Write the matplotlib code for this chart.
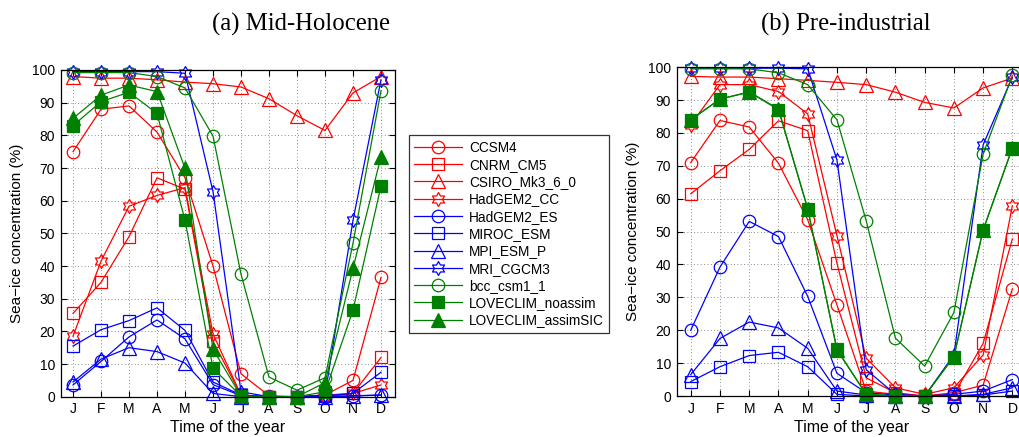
import matplotlib
matplotlib.use("Agg")
import matplotlib.pyplot as plt
from matplotlib.path import Path
import numpy as np

months = ["J", "F", "M", "A", "M", "J", "J", "A", "S", "O", "N", "D"]
models = ["CCSM4", "CNRM_CM5", "CSIRO_Mk3_6_0", "HadGEM2_CC", "HadGEM2_ES",
          "MIROC_ESM", "MPI_ESM_P", "MRI_CGCM3", "bcc_csm1_1",
          "LOVECLIM_noassim", "LOVECLIM_assimSIC"]

# (a) Mid-Holocene
mh_CCSM4 = [75, 88, 89, 81, 67, 40, 7, 0.3, 0, 0.5, 5, 36.5]
mh_CNRM_CM5 = [25.5, 35, 49, 67, 63.5, 17, 0.5, 0, 0, 0.5, 1, 12]
mh_CSIRO = [98, 97.5, 97.5, 97, 96.3, 95.8, 94.8, 91.2, 86, 81.5, 93, 98]
mh_HadGEM2_CC = [18.5, 41.5, 58.3, 61.6, 64, 19.2, 0.5, 0, 0, 0, 1, 3.6]
mh_HadGEM2_ES = [3.6, 10.8, 18.3, 23.5, 17.7, 3.7, 0.3, 0, 0, 0, 0.3, 0.5]
mh_MIROC_ESM = [15.5, 20.5, 23.3, 27.2, 20.3, 4.5, 0.5, 0, 0, 0.3, 1, 7.5]
mh_MPI_ESM_P = [4.5, 11.5, 15, 13.8, 10.3, 1, 0, 0, 0, 0, 0.2, 0.5]
mh_MRI_CGCM3 = [99.5, 99.5, 99.5, 99.5, 99, 62.8, 1.5, 0, 0, 0.5, 54, 97]
mh_bcc = [99.2, 99.2, 99.2, 98, 94.5, 79.8, 37.5, 6, 2, 5.8, 47, 93.7]
mh_LOVE_noassim = [83, 90.3, 93.2, 86.7, 54, 8.7, 0.2, 0, 0, 1.5, 26.5, 64.5]
mh_LOVE_assim = [85.2, 92.3, 95.4, 93.4, 69.9, 14.5, 0.2, 0, 0, 4.3, 39.3, 73.5]

# (b) Pre-industrial
pi_CCSM4 = [71, 83.8, 81.8, 70.8, 53.6, 27.7, 1.5, 0.5, 0, 1, 3.3, 32.6]
pi_CNRM_CM5 = [61.5, 68.5, 75, 83.7, 80.7, 40.4, 5.5, 1, 0, 0.5, 16, 47.8]
pi_CSIRO = [97.2, 97, 97, 96.5, 96, 95.4, 94.7, 92.4, 89.3, 87.6, 93.7, 96.7]
pi_HadGEM2_CC = [82.5, 94.7, 94.7, 92.6, 85.8, 48.8, 11.5, 2.5, 0.5, 2.5, 12.5, 57.9]
pi_HadGEM2_ES = [20, 39.2, 53.1, 48.5, 30.3, 6.9, 1, 0.3, 0, 0.5, 1.5, 5]
pi_MIROC_ESM = [4.4, 8.9, 12.3, 13.3, 8.9, 0.5, 0, 0, 0, 0, 0.3, 1.5]
pi_MPI_ESM_P = [6.5, 17.5, 22.5, 20.7, 14.5, 1.5, 0.3, 0, 0, 0, 0.5, 2.5]
pi_MRI_CGCM3 = [99.7, 99.7, 99.7, 99.7, 99.5, 71.8, 8, 0.5, 0, 12.5, 76.4, 97]
pi_bcc = [99.5, 99.5, 99.5, 98.3, 94.7, 84, 53.3, 17.6, 9.1, 25.4, 73.6, 97.5]
pi_LOVE_noassim = [84, 90.3, 92.4, 87.1, 56.9, 14.2, 0.5, 0, 0, 12, 50.5, 75.4]
pi_LOVE_assim = [84, 90.3, 92.5, 87.3, 57, 14, 0.5, 0, 0, 12, 50.5, 75.5]

mh_series = [mh_CCSM4, mh_CNRM_CM5, mh_CSIRO, mh_HadGEM2_CC, mh_HadGEM2_ES,
             mh_MIROC_ESM, mh_MPI_ESM_P, mh_MRI_CGCM3, mh_bcc,
             mh_LOVE_noassim, mh_LOVE_assim]
pi_series = [pi_CCSM4, pi_CNRM_CM5, pi_CSIRO, pi_HadGEM2_CC, pi_HadGEM2_ES,
             pi_MIROC_ESM, pi_MPI_ESM_P, pi_MRI_CGCM3, pi_bcc,
             pi_LOVE_noassim, pi_LOVE_assim]

# hexagram marker (MATLAB 'h')
verts = []
for k in range(6):
    a_out = np.deg2rad(90 + 60 * k)
    a_in = np.deg2rad(120 + 60 * k)
    verts.append((np.cos(a_out), np.sin(a_out)))
    verts.append((np.cos(a_in) / np.sqrt(3), np.sin(a_in) / np.sqrt(3)))
verts.append(verts[0])
codes = [Path.MOVETO] + [Path.LINETO] * 11 + [Path.CLOSEPOLY]
hexagram = Path(verts, codes)

RED, BLUE, GREEN = "#ff0000", "#0000ff", "#008000"
styles = [
    dict(color=RED, marker="o", ms=9, mfc="none"),
    dict(color=RED, marker="s", ms=9, mfc="none"),
    dict(color=RED, marker="^", ms=9.5, mfc="none"),
    dict(color=RED, marker=hexagram, ms=10, mfc="none"),
    dict(color=BLUE, marker="o", ms=9, mfc="none"),
    dict(color=BLUE, marker="s", ms=9, mfc="none"),
    dict(color=BLUE, marker="^", ms=9.5, mfc="none"),
    dict(color=BLUE, marker=hexagram, ms=10, mfc="none"),
    dict(color=GREEN, marker="o", ms=9, mfc="none"),
    dict(color=GREEN, marker="s", ms=8.5, mfc=GREEN),
    dict(color=GREEN, marker="^", ms=9.5, mfc=GREEN),
]

plt.rcParams["font.family"] = ["Liberation Sans", "DejaVu Sans"]

fig = plt.figure(figsize=(10.2, 4.37), dpi=100)
ax1 = fig.add_axes([60.7 / 1020, 1 - 396.7 / 437, (395 - 60.7) / 1020, (396.7 - 70) / 437])
ax2 = fig.add_axes([676.7 / 1020, 1 - 396 / 437, (1027 - 676.7) / 1020, (396 - 67.2) / 437])

x = np.arange(1, 13)
for ax, series, xl in [(ax1, mh_series, (0.56, 12.5)), (ax2, pi_series, (0.52, 12.5))]:
    for name, vals, st in zip(models, series, styles):
        ax.plot(x, vals, label=name, lw=0.9, mew=0.9, color=st["color"],
                marker=st["marker"], markersize=st["ms"], markerfacecolor=st["mfc"],
                clip_on=False)
    ax.set_xlim(*xl)
    ax.set_ylim(0, 100)
    ax.set_xticks(x)
    ax.set_xticklabels(months)
    ax.set_yticks(np.arange(0, 101, 10))
    ax.grid(True, linestyle=(0, (1, 3)), color="#666666", lw=0.6)
    ax.tick_params(direction="in", length=4, width=0.8, top=True, right=True,
                   labelsize=10, pad=4)
    for sp in ax.spines.values():
        sp.set_linewidth(0.9)
    ax.set_xlabel("Time of the year", fontsize=11.5, labelpad=3)
    ax.set_ylabel("Sea\u2212ice concentration (%)", fontsize=11, labelpad=6)

fig.text(301 / 1020, 1 - 24 / 437, "(a) Mid-Holocene", ha="center", va="center",
         fontsize=17.8, family="Liberation Serif")
fig.text(846 / 1020, 1 - 24 / 437, "(b) Pre-industrial", ha="center", va="center",
         fontsize=17.8, family="Liberation Serif")

handles, labels = ax1.get_legend_handles_labels()
leg = fig.legend(handles, labels, loc="center", bbox_to_anchor=(509 / 1020, 1 - 234 / 437),
                 fontsize=9.8, handlelength=3.5, handletextpad=0.5, labelspacing=0.24,
                 borderpad=0.4, frameon=True, fancybox=False, borderaxespad=0)
leg.get_frame().set_edgecolor("black")
leg.get_frame().set_linewidth(0.9)

fig.savefig("out.png", dpi=100)
